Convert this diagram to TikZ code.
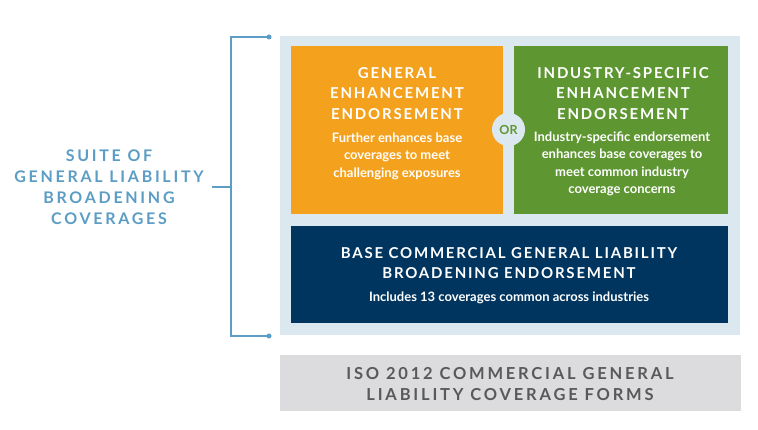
\documentclass[tikz,border=0pt]{standalone}
\usepackage{fontspec}
\setmainfont{Lato}
\newfontfamily\hf{Lato}[LetterSpace=12]
\newfontfamily\hfwide{Lato}[LetterSpace=17]
\definecolor{panel}{HTML}{DCE8F0}
\definecolor{orng}{HTML}{F4A11E}
\definecolor{grn}{HTML}{5E9732}
\definecolor{navy}{HTML}{00355F}
\definecolor{gbox}{HTML}{DCDCDE}
\definecolor{gtext}{HTML}{58595B}
\definecolor{brk}{HTML}{5B9DC4}
\tikzset{
  box/.style={inner sep=0pt, draw=none},
  head/.style={align=center, text=white, inner sep=0pt, font={\hf\bfseries\fontsize{15}{20.5}\selectfont}},
  body/.style={align=center, text=white, inner sep=0pt, font={\bfseries\fontsize{13}{17.5}\selectfont}},
  dot/.style={circle, fill=brk, inner sep=0pt, minimum size=5pt},
  brline/.style={draw=brk, line width=1.3pt}
}
\begin{document}
\begin{tikzpicture}[x=1pt,y=-1pt]
\useasboundingbox (0,0) rectangle (758,430);
\fill[white] (0,0) rectangle (758,430);
% boxes
\node[box, fill=panel, minimum width=460pt, minimum height=299pt] (panel) at (510,185.5) {};
\node[box, fill=orng, minimum width=212pt, minimum height=168pt] (gen) at (397,130) {};
\node[box, fill=grn, minimum width=214pt, minimum height=168pt] (ind) at (621,130) {};
\node[box, fill=navy, minimum width=437pt, minimum height=97pt] (base) at (509.5,274.5) {};
\node[box, fill=gbox, minimum width=461pt, minimum height=56pt] (iso) at (510.5,383) {};
\node[circle, fill=panel, inner sep=0pt, minimum size=33pt, text=grn, font={\bfseries\fontsize{12.5}{14}\selectfont}] (or) at (508.5,129.5) {OR};
% texts
\node[head] (genh) at (397,93.5) {GENERAL\\ENHANCEMENT\\ENDORSEMENT};
\node[body] (genb) at (397,156) {Further enhances base\\coverages to meet\\challenging exposures};
\node[head] (indh) at (623,93.5) {INDUSTRY-SPECIFIC\\ENHANCEMENT\\ENDORSEMENT};
\node[body] (indb) at (622,164) {Industry-specific endorsement\\enhances base coverages to\\meet common industry\\coverage concerns};
\node[head] (baseh) at (509,263) {BASE COMMERCIAL GENERAL LIABILITY\\BROADENING ENDORSEMENT};
\node[body] (baseb) at (509,297.5) {Includes 13 coverages common across industries};
\node[head, text=gtext, font={\hfwide\bfseries\fontsize{16.5}{20.5}\selectfont}] (isoh) at (510,384) {ISO 2012 COMMERCIAL GENERAL\\LIABILITY COVERAGE FORMS};
\node[head, text=brk, font={\hfwide\bfseries\fontsize{16}{21}\selectfont}] (suite) at (109,187) {SUITE OF\\GENERAL LIABILITY\\BROADENING\\COVERAGES};
% bracket
\node[dot] (dtop) at (269,37) {};
\node[dot] (dbot) at (269,336) {};
\coordinate (ctop) at (231,37);
\coordinate (cbot) at (231,336);
\coordinate (cmid) at (231,187);
\coordinate (tick) at (212,187);
\draw[brline] (dtop.center) -- (ctop) -- (cbot) -- (dbot.center);
\draw[brline] (tick) -- (cmid);
\end{tikzpicture}
\end{document}
